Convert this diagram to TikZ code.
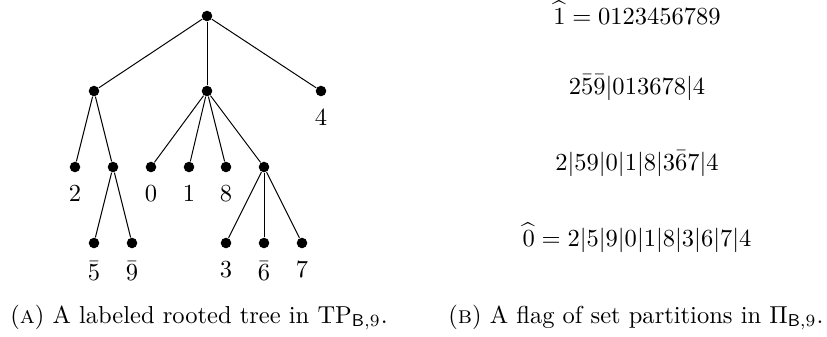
\documentclass[tikz,border=0pt]{standalone}
\usepackage{amsmath}
\usetikzlibrary{positioning}
\tikzset{
	vtx/.style={circle, fill, inner sep=0pt, minimum size=4.3pt}
}
\tikzset{
	lbl/.style={label distance=1.6pt}
}
\tikzset{
	flagtext/.style={anchor=base}
}

\begin{document}
\begin{tikzpicture}[x=0.408pt, y=-0.408pt]
      \useasboundingbox (0,0) rectangle (827,336);
      % tree
      \node[vtx] (r) at (207,16) {};
      \node[vtx] (a) at (94,91) {};
      \node[vtx] (b) at (207,91) {};
      \node[vtx, label={[lbl]below:$4$}] (c) at (321,91) {};
      \node[vtx, label={[lbl]below:$2$}] (a1) at (75,167) {};
      \node[vtx] (a2) at (113,167) {};
      \node[vtx, label={[lbl]below:$0$}] (b1) at (151,167) {};
      \node[vtx, label={[lbl]below:$1$}] (b2) at (189,167) {};
      \node[vtx, label={[lbl]below:$8$}] (b3) at (226,167) {};
      \node[vtx] (b4) at (264,167) {};
      \node[vtx, label={[lbl]below:$\bar{5}$}] (a21) at (94,243) {};
      \node[vtx, label={[lbl]below:$\bar{9}$}] (a22) at (132,243) {};
      \node[vtx, label={[lbl]below:$3$}] (b41) at (226,243) {};
      \node[vtx, label={[lbl]below:$\bar{6}$}] (b42) at (264,243) {};
      \node[vtx, label={[lbl]below:$7$}] (b43) at (302,243) {};
      \foreach \p/\c in {r/a, r/b, r/c, a/a1, a/a2, b/b1, b/b2, b/b3, b/b4,
                         a2/a21, a2/a22, b4/b41, b4/b42, b4/b43}
        \draw (\p) -- (\c);
      % flag
      \node[flagtext] (f1) at (637,24) {$\widehat{1} = 0123456789$};
      \node[flagtext] (f2) at (637,94) {$2\bar{5}\bar{9}|013678|4$};
      \node[flagtext] (f3) at (637,170) {$2|59|0|1|8|3\bar{6}7|4$};
      \node[flagtext] (f4) at (637,246) {$\widehat{0} = 2|5|9|0|1|8|3|6|7|4$};
      % captions
      \node[flagtext] (capA) at (199,323) {(\textsc{a}) A labeled rooted tree in $\mathrm{TP}_{\mathsf{B},9}$.};
      \node[flagtext] (capB) at (636,323) {(\textsc{b}) A flag of set partitions in $\Pi_{\mathsf{B},9}$.};
    \end{tikzpicture}
\end{document}
